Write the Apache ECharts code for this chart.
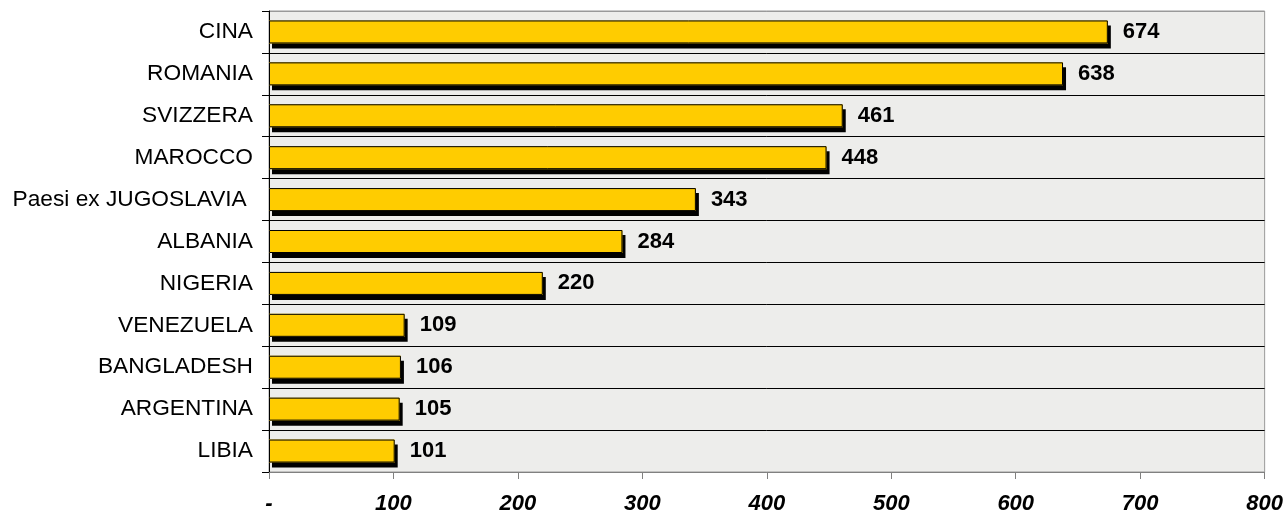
<!DOCTYPE html>
<html>
<head>
<meta charset="utf-8">
<script src="https://cdn.jsdelivr.net/npm/echarts@6/dist/echarts.min.js"></script>
<style>html,body{margin:0;padding:0;background:#fff}#c{width:1286px;height:515px}</style>
</head>
<body>
<div id="c"></div>
<script>
const categories = ["CINA","ROMANIA","SVIZZERA","MAROCCO","Paesi ex JUGOSLAVIA ","ALBANIA","NIGERIA","VENEZUELA","BANGLADESH","ARGENTINA","LIBIA"];
const values = [674,638,461,448,343,284,220,109,106,105,101];
const xTicks = {min:0, max:800, interval:100};

const splitColors = categories.map(()=> '#000000').concat(['#999999']);
splitColors[0] = '#999999';

const FONT = 'Arial, "Liberation Sans", sans-serif';
const chart = echarts.init(document.getElementById('c'), null, {renderer:'canvas'});
chart.setOption({
  backgroundColor:'#ffffff',
  animation:false,
  grid:{left:269, right:21, top:11, bottom:42, show:true, backgroundColor:'#EDEDEB', borderColor:'#999999', borderWidth:1},
  xAxis:{
    type:'value', min:xTicks.min, max:xTicks.max, interval:xTicks.interval,
    axisLine:{show:true, lineStyle:{color:'#808080', width:1}},
    axisTick:{show:true, length:7, lineStyle:{color:'#808080'}},
    splitLine:{show:false},
    axisLabel:{margin:21, color:'#000', fontFamily:FONT, fontSize:22, fontWeight:'bold', fontStyle:'italic',
      formatter:v=> v===0 ? '-' : String(v)}
  },
  yAxis:{
    type:'category', data:categories, inverse:true,
    axisLine:{show:true, lineStyle:{color:'#000', width:1}},
    axisTick:{show:true, length:7, lineStyle:{color:'#000'}},
    splitLine:{show:true, lineStyle:{color:splitColors, width:1}},
    axisLabel:{margin:16, color:'#000', fontFamily:FONT, fontSize:22.7}
  },
  series:[{
    type:'bar', data:values, barWidth:23, z:2,
    itemStyle:{color:'#FFCC00', borderWidth:0, shadowColor:'#000', shadowBlur:0, shadowOffsetX:3, shadowOffsetY:5},
    silent:true
  },{
    type:'bar', data:values, barWidth:23, barGap:'-100%', z:3,
    itemStyle:{color:'rgba(0,0,0,0)', borderColor:'#000', borderWidth:1},
    label:{show:true, position:'right', distance:15, color:'#000', fontFamily:FONT, fontSize:22, fontWeight:'bold'}
  }]
});
</script>
</body>
</html>
